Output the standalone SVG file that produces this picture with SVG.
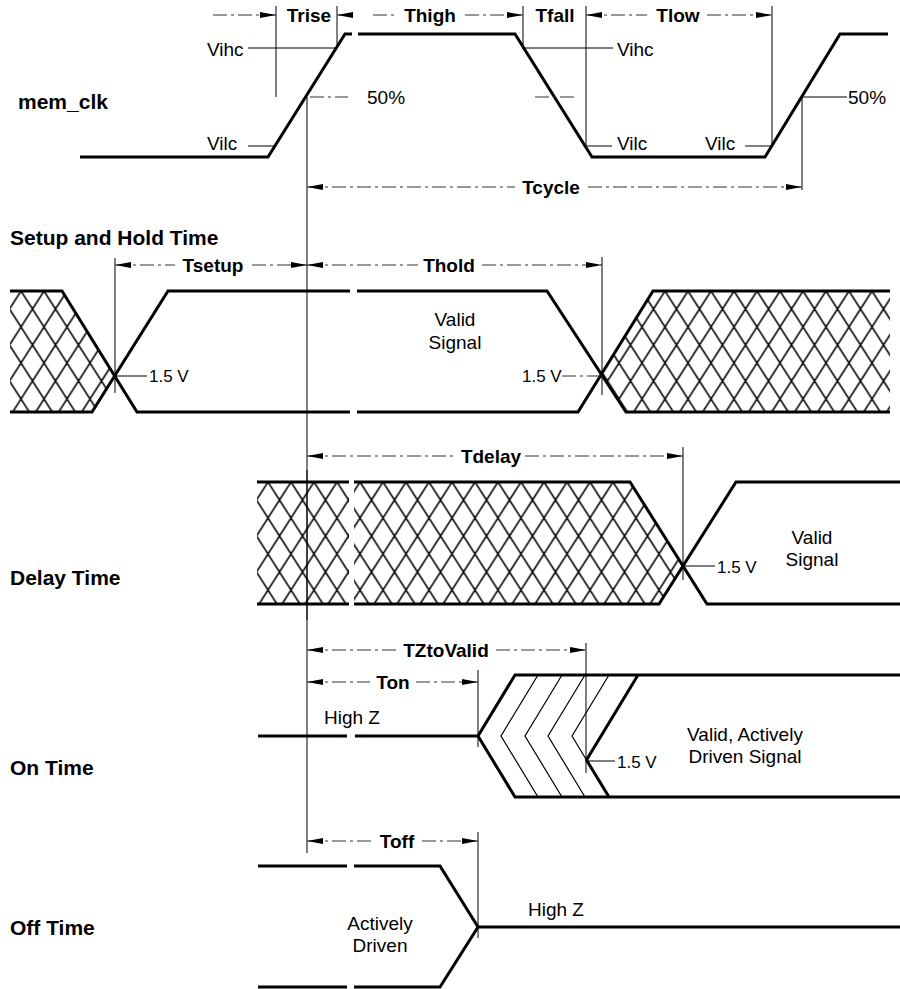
<svg xmlns="http://www.w3.org/2000/svg" width="900" height="989" viewBox="0 0 900 989">
<defs>
<style>
.sig{fill:none;stroke:#000;stroke-width:3;stroke-linejoin:miter}
.thin{fill:none;stroke:#000;stroke-width:1}
.thn{fill:none;stroke:#000;stroke-width:1.2}
.dim{fill:none;stroke:#333;stroke-width:1;stroke-dasharray:14 4 3 4}
.lbl{font-family:"Liberation Sans",Arial,sans-serif;font-weight:bold;font-size:21px;fill:#000}
.dl{font-family:"Liberation Sans",Arial,sans-serif;font-weight:bold;font-size:19px;fill:#000;text-anchor:middle}
.ann{font-family:"Liberation Sans",Arial,sans-serif;font-size:19px;fill:#000}
.mid{text-anchor:middle}
.v15{font-family:"Liberation Sans",Arial,sans-serif;font-size:17px;fill:#000}
</style>
<marker id="ah" viewBox="0 0 16 7" refX="16" refY="3.5" markerWidth="16" markerHeight="7" markerUnits="userSpaceOnUse" orient="auto-start-reverse">
<path d="M0,0.5 L16,3.5 L0,6.5 Z" fill="#000"/>
</marker>
<pattern id="hS" patternUnits="userSpaceOnUse" width="23" height="36" x="653.5" y="291">
<path d="M0,18 L11.5,0 L23,18 L11.5,36 Z" fill="none" stroke="#000" stroke-width="1.5"/>
</pattern>
<pattern id="hD" patternUnits="userSpaceOnUse" width="23" height="36" x="256.5" y="482">
<path d="M0,18 L11.5,0 L23,18 L11.5,36 Z" fill="none" stroke="#000" stroke-width="1.5"/>
</pattern>
</defs>
<rect width="900" height="989" fill="#fff"/>

<g id="connectors">
<line class="thin" x1="307" y1="97" x2="307" y2="853"/>
<line class="thin" x1="276" y1="6" x2="276" y2="97"/>
<line class="thin" x1="337" y1="6" x2="337" y2="48"/>
<line class="thin" x1="523" y1="6" x2="523" y2="48"/>
<line class="thin" x1="586" y1="6" x2="586" y2="146"/>
<line class="thin" x1="772" y1="6" x2="772" y2="146"/>
<line class="thin" x1="802" y1="97" x2="802" y2="190"/>
<line class="dim" x1="213" y1="15" x2="276" y2="15" marker-end="url(#ah)"/>
<line class="dim" x1="337" y1="15" x2="354" y2="15" marker-start="url(#ah)"/>
<line class="dim" x1="373" y1="15" x2="397" y2="15"/>
<line class="dim" x1="465" y1="15" x2="523" y2="15" marker-end="url(#ah)"/>
<line class="dim" x1="586" y1="15" x2="647" y2="15" marker-start="url(#ah)"/>
<line class="dim" x1="707" y1="15" x2="772" y2="15" marker-end="url(#ah)"/>
<line class="dim" x1="307" y1="187" x2="515" y2="187" marker-start="url(#ah)"/>
<line class="dim" x1="588" y1="187" x2="802" y2="187" marker-end="url(#ah)"/>
<line class="thin" x1="115" y1="258" x2="115" y2="393"/>
<line class="thin" x1="602" y1="257" x2="602" y2="395"/>
<line class="dim" x1="115" y1="265" x2="175" y2="265" marker-start="url(#ah)"/>
<line class="dim" x1="252" y1="265" x2="307" y2="265" marker-end="url(#ah)"/>
<line class="dim" x1="307" y1="265" x2="418" y2="265" marker-start="url(#ah)"/>
<line class="dim" x1="482" y1="265" x2="602" y2="265" marker-end="url(#ah)"/>
<line class="thin" x1="683" y1="447" x2="683" y2="580"/>
<line class="dim" x1="307" y1="456" x2="457" y2="456" marker-start="url(#ah)"/>
<line class="dim" x1="525" y1="456" x2="683" y2="456" marker-end="url(#ah)"/>
<line class="thin" x1="478" y1="670" x2="478" y2="747"/>
<line class="thin" x1="586" y1="643" x2="586" y2="773"/>
<line class="dim" x1="307" y1="650" x2="396" y2="650" marker-start="url(#ah)"/>
<line class="dim" x1="496" y1="650" x2="586" y2="650" marker-end="url(#ah)"/>
<line class="dim" x1="307" y1="682" x2="370" y2="682" marker-start="url(#ah)"/>
<line class="dim" x1="416" y1="682" x2="478" y2="682" marker-end="url(#ah)"/>
<line class="thin" x1="478" y1="832" x2="478" y2="938"/>
<line class="dim" x1="307" y1="841" x2="372" y2="841" marker-start="url(#ah)"/>
<line class="dim" x1="422" y1="841" x2="478" y2="841" marker-end="url(#ah)"/>
</g>

<g id="labels-dim">
<text class="dl" x="309" y="22">Trise</text>
<text class="dl" x="430" y="22">Thigh</text>
<text class="dl" x="555" y="22">Tfall</text>
<text class="dl" x="678" y="22">Tlow</text>
<text class="dl" x="551" y="194">Tcycle</text>
<text class="dl" x="213" y="272">Tsetup</text>
<text class="dl" x="449" y="272">Thold</text>
<text class="dl" x="491" y="463">Tdelay</text>
<text class="dl" x="446" y="657">TZtoValid</text>
<text class="dl" x="393" y="689">Ton</text>
<text class="dl" x="397" y="848">Toff</text>
</g>

<g id="mem_clk">
<text class="lbl" x="18" y="109">mem_clk</text>
<path class="sig" d="M80,157 H268 L345,34 H352 M358,34 H515 L592,157 H765 L840,34 H888"/>
<text class="ann" x="207" y="56">Vihc</text>
<line class="thin" x1="248" y1="48" x2="337" y2="48"/>
<text class="ann" x="207" y="150">Vilc</text>
<line class="thin" x1="248" y1="146" x2="275" y2="146"/>
<line class="dim" x1="310" y1="97" x2="348" y2="97"/>
<text class="ann" x="367" y="104">50%</text>
<line class="thin" x1="522" y1="48" x2="613" y2="48"/>
<text class="ann" x="617" y="56">Vihc</text>
<line class="thin" x1="587" y1="146" x2="612" y2="146"/>
<text class="ann" x="617" y="150">Vilc</text>
<text class="ann" x="705" y="150">Vilc</text>
<line class="thin" x1="745" y1="146" x2="772" y2="146"/>
<line class="dim" x1="535" y1="97" x2="575" y2="97"/>
<line class="thin" x1="802" y1="97" x2="847" y2="97"/>
<text class="ann" x="848" y="104">50%</text>
</g>

<g id="setup-hold">
<text class="lbl" x="10" y="245">Setup and Hold Time</text>
<polygon points="10,291 62,291 115,376 92,412 10,412" fill="url(#hS)"/>
<polygon points="602,376 653,291 890,291 890,412 626,412" fill="url(#hS)"/>
<path class="sig" d="M10,291 H62 L137,412 H350 M357,412 H578 L653,291 H890"/>
<path class="sig" d="M10,412 H92 L168,291 H350 M357,291 H547 L626,412 H890"/>
<line class="thin" x1="115" y1="376" x2="147" y2="376"/>
<text class="v15" x="149" y="382">1.5 V</text>
<text class="v15" x="522" y="382">1.5 V</text>
<line class="dim" x1="562" y1="376" x2="602" y2="376"/>
<text class="ann mid" x="455" y="326">Valid</text>
<text class="ann mid" x="455" y="349">Signal</text>
</g>

<g id="delay">
<text class="lbl" x="10" y="585">Delay Time</text>
<polygon points="257,482 630,482 683,566 659,604 257,604" fill="url(#hD)"/>
<rect x="349" y="478" width="5" height="130" fill="#fff"/>
<path class="sig" d="M257,482 H349 M354,482 H630 L707,604 H900"/>
<path class="sig" d="M257,604 H349 M354,604 H659 L736,482 H900"/>
<line class="thin" x1="307" y1="470" x2="307" y2="620"/>
<line class="thin" x1="683" y1="566" x2="715" y2="566"/>
<text class="v15" x="717" y="573">1.5 V</text>
<text class="ann mid" x="812" y="544">Valid</text>
<text class="ann mid" x="812" y="566">Signal</text>
</g>

<g id="on-time">
<text class="lbl" x="10" y="775">On Time</text>
<text class="ann" x="324" y="724">High Z</text>
<path class="sig" d="M258,736 H347 M355,736 H478"/>
<path class="sig" d="M900,675 H515 L478,736 L515,797 H900"/>
<path class="sig" d="M638,675 L586.5,760 L609,797"/>
<path class="thn" d="M538,675 L501,736 L538,797 M562,675 L525,736 L562,797 M585,675 L548,736 L585,797 M609,675 L572,736 L586.5,760"/>
<line class="thin" x1="587" y1="761" x2="615" y2="761"/>
<text class="v15" x="617" y="768">1.5 V</text>
<text class="ann mid" x="745" y="741">Valid, Actively</text>
<text class="ann mid" x="745" y="763">Driven Signal</text>
</g>

<g id="off-time">
<text class="lbl" x="10" y="935">Off Time</text>
<path class="sig" d="M258,866 H347 M354,866 H440 L478,927 L440,987 H354 M347,987 H258"/>
<path class="sig" d="M478,927 H900"/>
<text class="ann mid" x="380" y="930">Actively</text>
<text class="ann mid" x="380" y="952">Driven</text>
<text class="ann" x="528" y="916">High Z</text>
</g>
</svg>
